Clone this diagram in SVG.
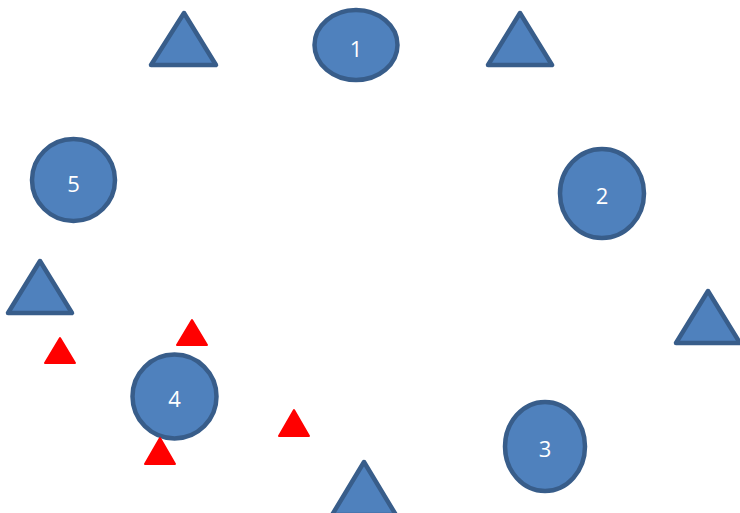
<svg xmlns="http://www.w3.org/2000/svg" width="740" height="513" viewBox="0 0 740 513">
<style>
.sh{fill:#4F81BD;stroke:#385D8A;stroke-width:4.5;stroke-linejoin:round}
.rt{fill:#FF0000;stroke:#FF0000;stroke-width:2;stroke-linejoin:round}
.lb{fill:#FFFFFF;font-family:"Open Sans","Noto Sans",sans-serif;font-size:22px;text-anchor:middle;dominant-baseline:central}
</style>
<rect width="740" height="513" fill="#FFFFFF"/>
<g id="connectors"></g>
<g id="node1"><ellipse class="sh" cx="356" cy="45" rx="41.5" ry="35"/><text class="lb" x="356" y="48">1</text></g>
<g id="node2"><ellipse class="sh" cx="602" cy="193.5" rx="42" ry="44.5"/><text class="lb" x="602" y="195">2</text></g>
<g id="node3"><ellipse class="sh" cx="545" cy="446.5" rx="40" ry="44.5"/><text class="lb" x="545" y="448">3</text></g>
<g id="node4"><circle class="sh" cx="174.5" cy="396.5" r="42"/><text class="lb" x="174.5" y="398">4</text></g>
<g id="node5"><ellipse class="sh" cx="73.5" cy="180" rx="41.5" ry="41"/><text class="lb" x="73.5" y="183">5</text></g>
<g id="tri-top-left"><polygon class="sh" points="184,13 216,65 151,65"/></g>
<g id="tri-top-right"><polygon class="sh" points="520,13 552,65 488,65"/></g>
<g id="tri-left"><polygon class="sh" points="40,261 72,313 8,313"/></g>
<g id="tri-right"><polygon class="sh" points="708,291 740,343 676,343"/></g>
<g id="tri-bottom"><polygon class="sh" points="364,462 396,515 332,515"/></g>
<g id="red1"><polygon class="rt" points="60,338 75,363 45,363"/></g>
<g id="red2"><polygon class="rt" points="192,320 207,345 177,345"/></g>
<g id="red3"><polygon class="rt" points="294,410 309,436 279,436"/></g>
<g id="red4"><polygon class="rt" points="160,438 175,464 145,464"/></g>
</svg>
